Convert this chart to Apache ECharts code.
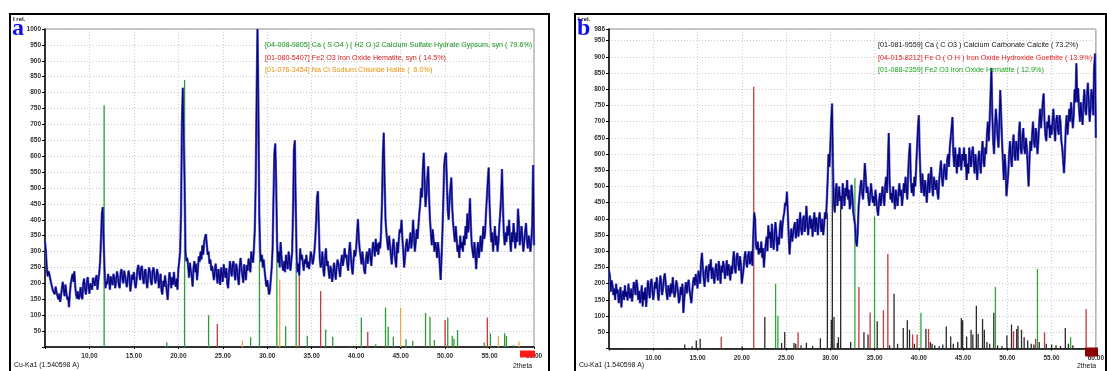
<!DOCTYPE html>
<html>
<head>
<meta charset="utf-8">
<script src="https://cdn.jsdelivr.net/npm/echarts@6/dist/echarts.min.js"></script>
<style>
  html, body { margin: 0; padding: 0; background: #fff; }
  #chart { width: 1107px; height: 371px; }
</style>
</head>
<body>
<div id="chart"></div>
<script>
// Scan grid (2theta, degrees)
const thetaStart = 5.0;
const thetaStep = 0.1;
const xTicks = [5, 10, 15, 20, 25, 30, 35, 40, 45, 50, 55, 60];

// Sample a: measured intensity, one value per 0.1 deg from 5.0 to 60.0
const scanA = [
  330, 300, 250, 222, 238, 228, 212, 200, 188, 176,
  182, 166, 190, 172, 178, 150, 168, 142, 160, 185,
  205, 180, 160, 196, 172, 150, 158, 125, 170, 200,
  215, 230, 205, 238, 190, 165, 152, 175, 150, 160,
  188, 160, 150, 200, 215, 180, 165, 198, 220, 190,
  168, 200, 205, 180, 218, 205, 192, 215, 226, 180,
  210, 232, 268, 340, 420, 440, 330, 240, 185, 205,
  198, 230, 212, 180, 222, 205, 195, 230, 215, 185,
  210, 238, 220, 195, 185, 232, 245, 218, 200, 240,
  225, 206, 188, 215, 240, 222, 175, 200, 228, 212,
  236, 200, 185, 210, 245, 258, 235, 210, 248, 255,
  220, 198, 235, 245, 205, 185, 222, 250, 238, 205,
  195, 238, 250, 228, 200, 212, 245, 230, 185, 205,
  230, 178, 165, 208, 190, 225, 200, 175, 148, 200,
  235, 215, 185, 220, 195, 236, 205, 190, 215, 180,
  245, 270, 300, 420, 700, 815, 820, 520, 300, 270,
  280, 255, 218, 265, 240, 225, 190, 248, 270, 235,
  262, 210, 245, 285, 268, 300, 275, 320, 290, 330,
  345, 355, 322, 290, 300, 262, 275, 240, 255, 232,
  210, 240, 262, 228, 200, 245, 222, 195, 250, 230,
  205, 260, 235, 218, 248, 200, 185, 232, 270, 245,
  222, 258, 270, 230, 210, 262, 245, 218, 195, 255,
  280, 248, 225, 202, 260, 232, 210, 258, 240, 278,
  262, 235, 300, 280, 265, 310, 370, 520, 780, 1000,
  760, 420, 300, 268, 290, 250, 275, 240, 215, 190,
  210, 190, 165, 178, 215, 250, 310, 470, 610, 640,
  520, 330, 265, 300, 250, 330, 285, 255, 240, 270,
  235, 290, 265, 245, 300, 275, 240, 270, 300, 430,
  620, 650, 450, 280, 235, 262, 225, 310, 275, 290,
  265, 240, 275, 262, 290, 250, 268, 245, 272, 300,
  285, 260, 275, 300, 340, 400, 470, 490, 380, 280,
  250, 262, 300, 245, 222, 280, 310, 255, 270, 238,
  215, 255, 240, 205, 230, 265, 240, 212, 250, 275,
  262, 240, 220, 268, 290, 255, 275, 310, 280, 290,
  260, 240, 300, 330, 285, 250, 228, 270, 305, 285,
  310, 360, 402, 340, 305, 285, 260, 300, 270, 240,
  230, 275, 300, 262, 290, 310, 285, 255, 300, 330,
  315, 285, 340, 300, 325, 290, 330, 310, 360, 450,
  600, 674, 520, 400, 360, 330, 305, 350, 320, 290,
  260, 310, 340, 300, 275, 250, 330, 295, 340, 370,
  360, 400, 340, 300, 250, 285, 320, 340, 300, 310,
  330, 360, 310, 340, 400, 350, 300, 330, 370, 340,
  380, 420, 450, 500, 470, 560, 611, 520, 440, 480,
  530, 568, 470, 400, 360, 320, 370, 340, 300, 330,
  310, 280, 330, 300, 260, 211, 280, 360, 460, 570,
  600, 611, 520, 430, 400, 460, 500, 533, 440, 390,
  360, 330, 380, 340, 300, 320, 280, 350, 310, 330,
  300, 350, 320, 380, 340, 420, 360, 400, 468, 380,
  320, 300, 280, 330, 290, 245, 300, 330, 280, 310,
  350, 300, 330, 380, 340, 360, 420, 470, 520, 564,
  450, 380, 330, 360, 300, 340, 380, 320, 350, 300,
  330, 380, 420, 470, 560, 450, 360, 320, 360, 330,
  380, 350, 400, 340, 300, 360, 330, 390, 350, 310,
  360, 330, 435, 390, 320, 350, 380, 340, 300, 330,
  360, 390, 340, 310, 350, 330, 300, 340, 380, 572,
  320
];

// Sample b: measured intensity, one value per 0.1 deg from 5.0 to 60.0
const scanB = [
  240, 225, 175, 210, 195, 165, 185, 150, 200, 170,
  182, 140, 160, 190, 127, 165, 178, 150, 195, 160,
  175, 148, 200, 168, 155, 185, 145, 172, 205, 190,
  165, 212, 195, 150, 178, 140, 160, 195, 130, 175,
  150, 188, 128, 170, 210, 180, 155, 200, 215, 182,
  150, 175, 205, 185, 220, 170, 148, 190, 225, 200,
  165, 185, 215, 232, 205, 170, 150, 195, 180, 160,
  200, 170, 220, 185, 158, 175, 210, 195, 172, 140,
  155, 190, 165, 200, 110, 150, 185, 205, 170, 198,
  212, 180, 160, 140, 175, 205, 220, 195, 230, 210,
  185, 240, 225, 200, 265, 295, 250, 215, 190, 235,
  255, 230, 205, 260, 240, 275, 215, 250, 230, 200,
  240, 262, 228, 210, 270, 245, 200, 255, 235, 270,
  250, 215, 240, 272, 225, 260, 240, 210, 255, 230,
  270, 300, 250, 232, 280, 295, 265, 240, 285, 260,
  200, 195, 245, 280, 300, 265, 250, 285, 300, 260,
  270, 300, 255, 350, 420, 400, 320, 305, 330, 290,
  310, 295, 330, 280, 310, 250, 290, 320, 345, 300,
  380, 340, 360, 310, 385, 335, 305, 350, 390, 360,
  300, 345, 320, 372, 395, 340, 380, 405, 420, 450,
  440, 484, 420, 350, 290, 340, 370, 330, 355, 375,
  390, 340, 360, 400, 345, 380, 420, 370, 350, 395,
  410, 360, 380, 440, 390, 350, 385, 410, 370, 400,
  345, 390, 420, 360, 405, 380, 350, 400, 420, 380,
  360, 400, 350, 380, 420, 400, 450, 520, 600, 560,
  623, 700, 756, 560, 450, 420, 480, 510, 440, 470,
  500, 455, 470, 430, 510, 480, 440, 495, 470, 520,
  460, 490, 430, 450, 505, 470, 420, 400, 380, 330,
  315, 360, 440, 470, 500, 520, 480, 460, 510, 572,
  530, 480, 500, 465, 440, 470, 510, 480, 450, 470,
  440, 490, 460, 430, 410, 450, 480, 440, 470, 500,
  470, 440, 500, 530, 480, 560, 665, 520, 460, 480,
  450, 500, 470, 430, 490, 460, 440, 480, 510, 470,
  490, 440, 470, 510, 480, 530, 490, 460, 540, 600,
  634, 520, 480, 510, 470, 530, 500, 560, 620, 680,
  720, 600, 520, 480, 540, 500, 470, 520, 490, 450,
  500, 540, 480, 520, 560, 500, 470, 530, 510, 490,
  520, 480, 460, 520, 550, 580, 530, 500, 540, 570,
  540, 520, 580, 600, 560, 620, 650, 680, 714, 600,
  560, 620, 580, 540, 600, 560, 620, 580, 550, 600,
  580, 620, 560, 600, 520, 570, 540, 620, 590, 560,
  600, 623, 580, 540, 600, 560, 520, 580, 610, 570,
  540, 600, 640, 580, 560, 620, 600, 660, 700, 640,
  700, 780, 865, 720, 640, 600, 680, 740, 700, 650,
  620, 700, 798, 720, 640, 580, 520, 600, 560, 470,
  464, 540, 600, 640, 590, 560, 620, 660, 600, 580,
  640, 620, 580, 660, 700, 620, 600, 650, 680, 620,
  600, 650, 620, 560, 500, 580, 640, 610, 660, 700,
  640, 620, 680, 660, 600, 640, 700, 740, 680, 720,
  760, 787, 700, 660, 640, 700, 680, 720, 650, 690,
  660, 700, 740, 680, 640, 700, 720, 680, 660, 720,
  700, 640, 620, 580, 541, 600, 680, 720, 660, 700,
  740, 700, 760, 720, 680, 720, 800, 760, 880, 760,
  803, 740, 700, 760, 720, 690, 760, 800, 740, 720,
  780, 820, 760, 700, 740, 800, 780, 720, 860, 910,
  650
];

// Reference patterns, sample a
const gypsumPos = [11.65, 18.7, 20.7, 23.4, 28.13, 29.12, 31.08, 32.07, 33.25, 34.5, 36.57, 37.36, 39.3, 40.58, 42.2, 43.3, 43.6, 44.18, 45.6, 46.36, 47.8, 48.3, 48.8, 50.3, 50.8, 51.0, 51.4, 54.4, 55.1, 56.7, 56.9, 57.7];
const gypsumInt = [760, 15, 840, 100, 31, 420, 370, 65, 265, 35, 55, 32, 4, 93, 9, 124, 64, 32, 24, 20, 107, 95, 22, 93, 35, 27, 53, 14, 43, 43, 35, 6];
const hematiteAPos = [24.38, 33.6, 36.0, 41.3, 50.0, 54.75];
const hematiteAInt = [72, 230, 176, 47, 85, 93];
const halitePos = [27.2, 31.4, 45.0, 56.0, 58.3];
const haliteInt = [20, 212, 124, 35, 17];

// Reference patterns, sample b
const calcitePos = [13.55, 14.4, 14.86, 15.3, 20.04, 22.6, 24.5, 24.85, 25.9, 26.1, 26.7, 27.3, 28.0, 28.88, 29.67, 30.12, 30.23, 30.42, 30.8, 30.92, 31.17, 32.3, 33.8, 34.26, 35.3, 36.7, 37.2, 37.6, 38.24, 38.7, 38.95, 39.5, 40.8, 41.3, 41.5, 41.8, 42.3, 42.7, 43.1, 43.6, 43.9, 44.4, 44.8, 44.95, 45.4, 45.9, 46.1, 46.5, 46.7, 47.2, 47.4, 47.7, 48.0, 48.47, 48.9, 49.4, 49.95, 50.47, 51.06, 51.2, 51.6, 51.9, 52.3, 52.7, 53.0, 53.6, 54.4, 55.0, 55.5, 56.0, 56.55, 56.9, 57.4];
const calciteInt = [12, 7, 25, 30, 7, 97, 17, 51, 17, 15, 10, 18, 8, 32, 420, 89, 700, 97, 17, 35, 465, 20, 50, 43, 84, 10, 169, 15, 63, 87, 58, 15, 61, 20, 15, 10, 8, 12, 68, 37, 15, 20, 94, 87, 37, 58, 43, 132, 45, 91, 58, 20, 15, 110, 10, 8, 40, 74, 60, 70, 58, 35, 25, 15, 12, 20, 15, 12, 10, 8, 63, 15, 10];
const goethitePos = [17.68, 21.35, 26.36, 33.23, 34.5, 36.0, 36.5, 39.3, 39.8, 41.1, 50.7, 53.2, 54.2, 58.9];
const goethiteInt = [36, 808, 50, 190, 111, 118, 292, 43, 43, 60, 53, 30, 50, 122];
const hematiteBPos = [23.82, 24.08, 32.78, 35.0, 40.24, 48.65, 53.4, 57.15];
const hematiteBInt = [200, 101, 526, 407, 110, 190, 245, 35];

const legendA = [
  { text: '[04-008-9805] Ca ( S O4 ) ( H2 O )2 Calcium Sulfate Hydrate Gypsum, syn ( 79.6%)', color: '#12961e' },
  { text: '[01-080-5407] Fe2 O3 Iron Oxide Hematite, syn ( 14.5%)', color: '#d41818' },
  { text: '[01-076-3454] Na Cl Sodium Chloride Halite (  6.0%)', color: '#e8900a' }
];
const legendB = [
  { text: '[01-081-9559] Ca ( C O3 ) Calcium Carbonate Calcite ( 73.2%)', color: '#111111' },
  { text: '[04-015-8212] Fe O ( O H ) Iron Oxide Hydroxide Goethite ( 13.9%)', color: '#e01a1a' },
  { text: '[01-088-2359] Fe2 O3 Iron Oxide Hematite ( 12.9%)', color: '#18a018' }
];

const FONT = '"Liberation Sans", Arial, sans-serif';

function scanData(values) {
  return values.map((v, i) => [+(thetaStart + i * thetaStep).toFixed(2), v]);
}

function stickSeries(idx, pos, ints, color, width) {
  return {
    type: 'custom',
    xAxisIndex: idx,
    yAxisIndex: idx,
    z: 2,
    silent: true,
    clip: true,
    data: pos.map((p, i) => [p, ints[i]]),
    renderItem: function (params, api) {
      const top = api.coord([api.value(0), api.value(1)]);
      const base = api.coord([api.value(0), 0]);
      return {
        type: 'line',
        shape: { x1: top[0], y1: top[1], x2: base[0], y2: base[1] },
        style: { stroke: color, lineWidth: width || 1.3 }
      };
    }
  };
}

function traceSeries(idx, values) {
  return [
    {
      type: 'line', xAxisIndex: idx, yAxisIndex: idx, z: 3, silent: true,
      showSymbol: false, animation: false,
      data: scanData(values),
      lineStyle: { color: '#5c5cd2', width: 2.4 }
    },
    {
      type: 'line', xAxisIndex: idx, yAxisIndex: idx, z: 4, silent: true,
      showSymbol: false, animation: false,
      data: scanData(values),
      lineStyle: { color: '#06067a', width: 1.2 }
    }
  ];
}

function xAxisCfg(idx) {
  return {
    type: 'value', gridIndex: idx, min: xTicks[0], max: xTicks[xTicks.length - 1], interval: 5,
    axisLine: { show: true, onZero: false, lineStyle: { color: '#000', width: 1.5 } },
    axisTick: { show: true, length: 2, lineStyle: { color: '#000' } },
    axisLabel: {
      margin: 6, fontSize: 6.5, fontWeight: 'bold', color: '#333', fontFamily: FONT,
      formatter: v => (v === xTicks[0] ? '' : v.toFixed(2))
    },
    splitLine: { show: true, lineStyle: { color: '#cccccc', type: [1, 2], width: 1 } }
  };
}

function yAxisCfg(idx, max) {
  return {
    type: 'value', gridIndex: idx, min: 0, max: max, interval: 50,
    axisLine: { show: true, lineStyle: { color: '#000', width: 1.5 } },
    axisTick: { show: true, length: 3, lineStyle: { color: '#000' } },
    axisLabel: {
      margin: 4, fontSize: 6.5, fontWeight: 'bold', color: '#333', fontFamily: FONT,
      formatter: v => (v === 0 ? '' : String(v))
    },
    splitLine: { show: true, lineStyle: { color: '#cccccc', type: [1, 2], width: 1 } }
  };
}

function legendTexts(list, x, y0) {
  return list.map((l, i) => ({
    type: 'text', z: 20, left: x, top: y0 + i * 12.2,
    style: { text: l.text, fill: l.color, font: '7.2px ' + FONT }
  }));
}

function panelTexts(ox, letter, plotRight) {
  return [
    { type: 'rect', z: 30, shape: { x: ox, y: 14, width: ox < 300 ? 539 : 531, height: 372 },
      style: { fill: 'none', stroke: '#000', lineWidth: 2 } },
    { type: 'text', z: 20, left: ox + 3, top: 16,
      style: { text: 'I rel.', fill: '#111', font: 'bold 6px ' + FONT } },
    { type: 'text', z: 21, left: ox + 2, top: 17,
      style: { text: letter, fill: '#1010e8', font: 'bold 24px "Liberation Serif", "DejaVu Serif", serif' } },
    { type: 'text', z: 20, left: ox + 4, top: 362,
      style: { text: 'Cu-Ka1 (1.540598 A)', fill: '#111', font: '6.9px ' + FONT } },
    { type: 'text', z: 20, left: plotRight - 21, top: 363,
      style: { text: '2theta', fill: '#111', font: '6.9px ' + FONT } }
  ];
}

const chart = echarts.init(document.getElementById('chart'), null, { renderer: 'canvas' });

chart.setOption({
  animation: false,
  backgroundColor: '#fff',
  grid: [
    { left: 45, top: 29, width: 489, height: 318, show: true, borderColor: '#8a8a8a', borderWidth: 1, backgroundColor: '#fff' },
    { left: 609, top: 29, width: 489, height: 319.5, show: true, borderColor: '#8a8a8a', borderWidth: 1, backgroundColor: '#fff' }
  ],
  xAxis: [xAxisCfg(0), xAxisCfg(1)],
  yAxis: [yAxisCfg(0, 1000), yAxisCfg(1, 986)],
  series: [
    ...traceSeries(0, scanA),
    stickSeries(0, halitePos, haliteInt, '#eaa650'),
    stickSeries(0, hematiteAPos, hematiteAInt, '#c23a3a'),
    stickSeries(0, gypsumPos, gypsumInt, '#2f9a38'),
    ...traceSeries(1, scanB),
    stickSeries(1, calcitePos, calciteInt, '#2a2a2a'),
    stickSeries(1, goethitePos, goethiteInt, '#c23838'),
    stickSeries(1, hematiteBPos, hematiteBInt, '#2da83a')
  ],
  graphic: [
    ...panelTexts(10, 'a', 534),
    ...panelTexts(575, 'b', 1098),
    ...legendTexts(legendA, 265, 42),
    ...legendTexts(legendB, 878, 42),
    { type: 'rect', z: 25, shape: { x: 520, y: 350.5, width: 15, height: 7 }, style: { fill: '#ff1a1a' } },
    { type: 'rect', z: 25, shape: { x: 1085, y: 347.5, width: 13, height: 9 }, style: { fill: '#8b0000' } }
  ]
});
</script>
</body>
</html>
